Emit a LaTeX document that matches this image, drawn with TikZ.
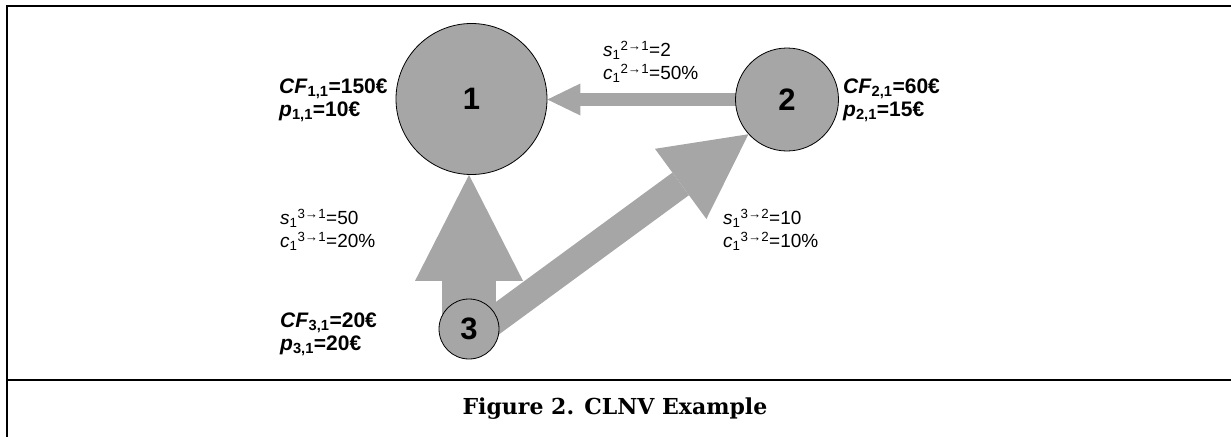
\documentclass[tikz,border=0pt]{standalone}
\usepackage{fontspec}
\setmainfont{Liberation Sans}
\newfontfamily\capfont{DejaVu Serif}
\usetikzlibrary{arrows.meta,backgrounds}
\definecolor{nodegray}{RGB}{166,166,166}
\begin{document}
\begin{tikzpicture}[x=1pt,y=-1pt,
  frame/.style={line width=2.2pt,black},
  station/.style={circle,draw=black,line width=0.8pt,fill=nodegray,inner sep=0pt,
    font=\fontsize{31}{31}\selectfont\bfseries},
  nodelabel/.style={anchor=west,align=left,inner sep=0pt,
    font=\fontsize{21}{23}\selectfont\bfseries},
  edgelabel/.style={anchor=west,align=left,inner sep=0pt,
    font=\fontsize{19}{23}\selectfont},
  flow/.style={draw=nodegray,line width=#1}
]
\useasboundingbox (0,0) rectangle (1231,437);
% frame
\draw[frame] (1231,6) -- (7,6) -- (7,437);
\draw[frame] (7,380) -- (1231,380);
% stations
\node[station,minimum size=151pt] (n1) at (471.5,99) {1};
\node[station,minimum size=103pt] (n2) at (787,99.5) {2};
\node[station,minimum size=60pt] (n3) at (469,329) {3};
% flows
\begin{pgfonlayer}{background}
\draw[flow=13pt,-{Triangle[width=32pt,length=33pt,line width=0pt]}] (n2.center) -- (n2.center -| n1.east);
\draw[flow=54pt,-{Triangle[width=108pt,length=106pt,line width=0pt]}] (n3.center) -- (n3.center |- n1.south);
\draw[flow=28pt,-{Triangle[width=87pt,length=84pt,line width=0pt]}] ([yshift=-10pt]n3.center) -- (n2.222);
\end{pgfonlayer}
% labels
\node[nodelabel] (l1) at (279,100) {\textit{CF}\textsubscript{1,1}=150€\\\textit{p}\textsubscript{1,1}=10€};
\node[nodelabel] (l2) at (843,100.5) {\textit{CF}\textsubscript{2,1}=60€\\\textit{p}\textsubscript{2,1}=15€};
\node[nodelabel] (l3) at (280,334) {\textit{CF}\textsubscript{3,1}=20€\\\textit{p}\textsubscript{3,1}=20€};
\node[edgelabel] (e21) at (603,62) {\textit{s}\textsubscript{1}\textsuperscript{2→1}=2\\\textit{c}\textsubscript{1}\textsuperscript{2→1}=50\%};
\node[edgelabel] (e31) at (280,230) {\textit{s}\textsubscript{1}\textsuperscript{3→1}=50\\\textit{c}\textsubscript{1}\textsuperscript{3→1}=20\%};
\node[edgelabel] (e32) at (723,230) {\textit{s}\textsubscript{1}\textsuperscript{3→2}=10\\\textit{c}\textsubscript{1}\textsuperscript{3→2}=10\%};
% caption
\node[font=\capfont\bfseries\fontsize{22}{22}\selectfont,inner sep=0pt] (cap) at (615,409) {Figure 2. CLNV Example};
\end{tikzpicture}
\end{document}
